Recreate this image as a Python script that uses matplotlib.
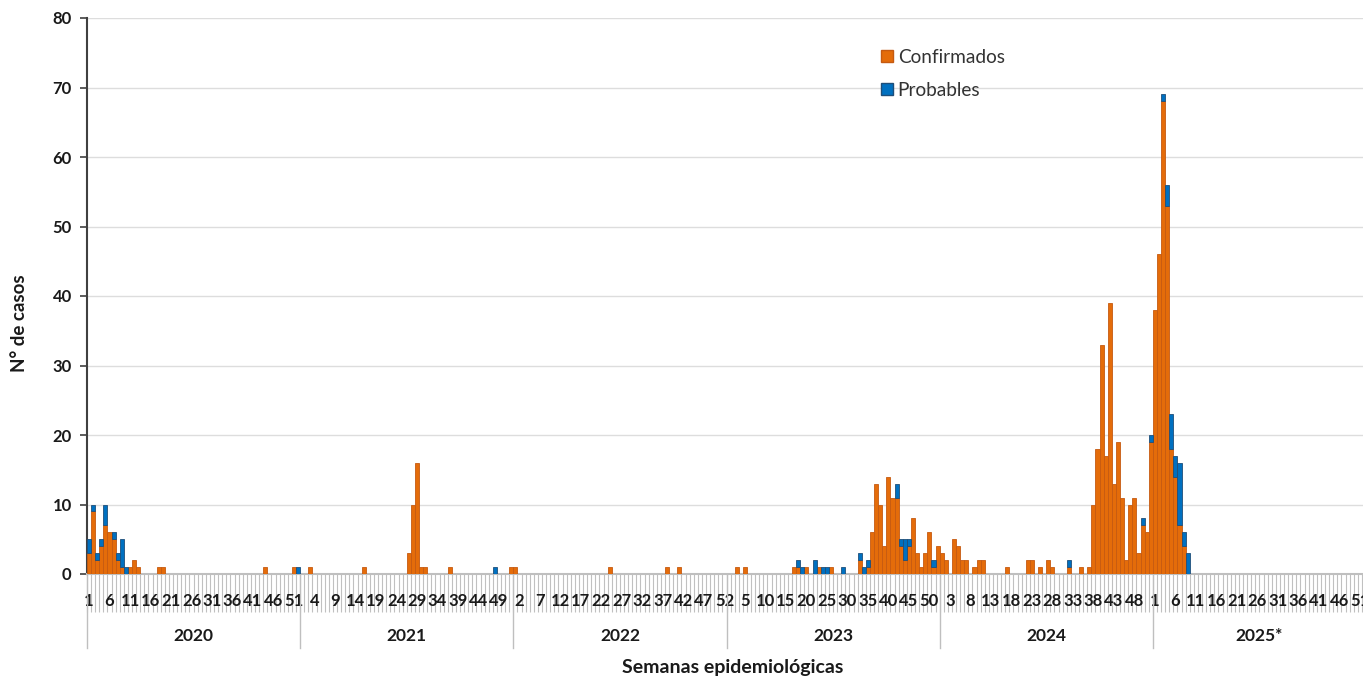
import numpy as np
import matplotlib
matplotlib.use('Agg')
import matplotlib.pyplot as plt
from matplotlib.patches import Patch
import matplotlib.transforms as mtrans

plt.rcParams['font.family'] = ['Lato', 'DejaVu Sans']

years = ['2020', '2021', '2022', '2023', '2024', '2025*']
weeks_per_year = 52

# Weekly cases (week: count), only non-zero weeks listed
conf_2020 = {1: 3, 2: 9, 3: 2, 4: 4, 5: 7, 6: 6, 7: 5, 8: 2, 9: 1, 11: 1, 12: 2, 13: 1,
             18: 1, 19: 1, 44: 1, 51: 1}
prob_2020 = {1: 2, 2: 1, 3: 1, 4: 1, 5: 3, 7: 1, 8: 1, 9: 4, 10: 1, 52: 1}
conf_2021 = {3: 1, 16: 1, 27: 3, 28: 10, 29: 16, 30: 1, 31: 1, 37: 1, 52: 1}
prob_2021 = {48: 1}
conf_2022 = {1: 1, 24: 1, 38: 1, 41: 1}
prob_2022 = {}
conf_2023 = {3: 1, 5: 1, 17: 1, 18: 1, 20: 1, 23: 1, 26: 1, 33: 2, 35: 1, 36: 6, 37: 13,
             38: 10, 39: 4, 40: 14, 41: 11, 42: 11, 43: 4, 44: 2, 45: 4, 46: 8, 47: 3,
             48: 1, 49: 3, 50: 6, 51: 1, 52: 4}
prob_2023 = {18: 1, 19: 1, 22: 2, 24: 1, 25: 1, 29: 1, 33: 1, 34: 1, 35: 1, 42: 2, 43: 1,
             44: 3, 45: 1, 51: 1}
conf_2024 = {1: 3, 2: 2, 4: 5, 5: 4, 6: 2, 7: 2, 9: 1, 10: 2, 11: 2, 17: 1, 22: 2, 23: 2,
             25: 1, 27: 2, 28: 1, 32: 1, 35: 1, 37: 1, 38: 10, 39: 18, 40: 33, 41: 17,
             42: 39, 43: 13, 44: 19, 45: 11, 46: 2, 47: 10, 48: 11, 49: 3, 50: 7, 51: 6,
             52: 19}
prob_2024 = {32: 1, 50: 1, 52: 1}
conf_2025 = {1: 38, 2: 46, 3: 68, 4: 53, 5: 18, 6: 14, 7: 7, 8: 4}
prob_2025 = {3: 1, 4: 3, 5: 5, 6: 3, 7: 9, 8: 2, 9: 3}

conf_by_year = [conf_2020, conf_2021, conf_2022, conf_2023, conf_2024, conf_2025]
prob_by_year = [prob_2020, prob_2021, prob_2022, prob_2023, prob_2024, prob_2025]

confirmados, probables, week_numbers = [], [], []
for c, p in zip(conf_by_year, prob_by_year):
    for w in range(1, weeks_per_year + 1):
        confirmados.append(c.get(w, 0))
        probables.append(p.get(w, 0))
        week_numbers.append(w)
confirmados = np.array(confirmados)
probables = np.array(probables)
x = np.arange(len(confirmados))

W, H = 1363, 676
fig = plt.figure(figsize=(W / 100, H / 100), dpi=100)
ax = fig.add_axes([87 / W, 1 - 574 / H, 1279 / W, 556 / H])

orange = '#E46C0A'
blue = '#0070C0'
ax.bar(x, confirmados, width=1.0, color=orange, edgecolor='#C55A11',
       linewidth=[0.6 if v > 0 else 0 for v in confirmados], zorder=3)
ax.bar(x, probables, bottom=confirmados, width=1.0, color=blue, edgecolor='#1F4E79',
       linewidth=[0.6 if v > 0 else 0 for v in probables], zorder=3)

ax.set_xlim(-0.5, len(x) - 0.5)
ax.set_ylim(0, 80)
ax.set_yticks(np.arange(0, 81, 10))
ax.yaxis.grid(True, color='#DDDDDD', linewidth=1.0, zorder=0)
ax.set_axisbelow(True)
for lab in ax.get_yticklabels():
    lab.set_fontweight('bold')
ax.tick_params(axis='y', labelsize=12, length=5, width=1.2, color='#404040',
               labelcolor='#1A1A1A', pad=6)

# category boundary ticks
ax.set_xticks(np.arange(-0.5, len(x), 1.0))
ax.set_xticklabels([])
ax.tick_params(axis='x', which='major', length=27, width=0.8, color='#C0C0C0')
label_pos = x[::5]
ax.set_xticks(label_pos, [str(week_numbers[i]) for i in label_pos], minor=True)
ax.tick_params(axis='x', which='minor', length=0, pad=14, labelsize=12,
               labelcolor='#1A1A1A')
for lab in ax.get_xticklabels(minor=True):
    lab.set_fontweight('bold')

for s in ['top', 'right']:
    ax.spines[s].set_visible(False)
ax.spines['left'].set_color('#404040')
ax.spines['left'].set_linewidth(1.5)
ax.spines['bottom'].set_color('#BFBFBF')
ax.spines['bottom'].set_linewidth(1.5)

trans = mtrans.blended_transform_factory(ax.transData, ax.transAxes)
for k, yr in enumerate(years):
    b = k * weeks_per_year - 0.5
    ax.plot([b, b], [0, -74 / 556], transform=trans, color='#BFBFBF', lw=1.0,
            clip_on=False)
    ax.text(b + weeks_per_year / 2, -62 / 556, yr, transform=trans, ha='center',
            va='center', fontsize=12.5, fontweight='bold', color='#1A1A1A')

fig.text(733 / W, 1 - 667 / H, 'Semanas epidemiológicas', ha='center', va='center',
         fontsize=14, fontweight='bold', color='#1A1A1A')
fig.text(20 / W, 1 - 323 / H, 'N° de casos', ha='center', va='center', rotation=90,
         fontsize=13.5, fontweight='bold', color='#1A1A1A')

handles = [Patch(facecolor=orange, edgecolor='#C55A11', label='Confirmados'),
           Patch(facecolor=blue, edgecolor='#1F4E79', label='Probables')]
leg = ax.legend(handles=handles, loc='upper left', bbox_to_anchor=(873 / W, 1 - 41 / H),
                bbox_transform=fig.transFigure, frameon=False, fontsize=13.7,
                handlelength=0.65, handleheight=0.65, handletextpad=0.25,
                labelspacing=0.85, borderaxespad=0)
for t in leg.get_texts():
    t.set_color('#333333')

fig.savefig('out.png', dpi=100)
